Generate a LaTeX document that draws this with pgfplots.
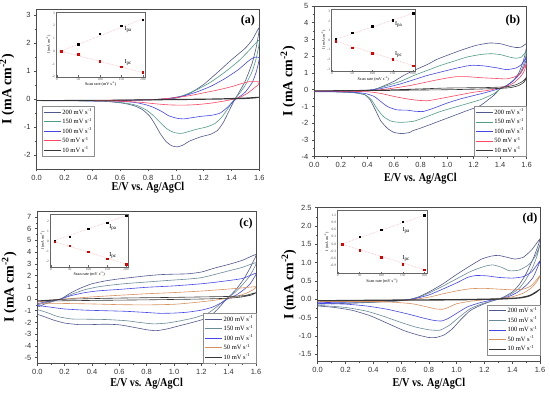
\documentclass[border=0pt]{standalone}
\usepackage{fontspec}
\setmainfont{Liberation Serif}
\setsansfont{Liberation Sans}
\usepackage{graphicx}
\usepackage{pgfplots}
\pgfplotsset{compat=1.18}

\definecolor{cA}{RGB}{80,88,140}
\definecolor{cB}{RGB}{80,155,135}
\definecolor{cBg}{RGB}{105,138,150}
\definecolor{cC}{RGB}{70,70,230}
\definecolor{cD}{RGB}{255,70,100}
\definecolor{cDo}{RGB}{215,145,95}
\definecolor{cE}{RGB}{55,55,55}
\definecolor{fitpink}{RGB}{255,160,170}

\tikzset{
  plab/.style={font=\fontsize{6}{6}\selectfont, anchor=center},
  panlab/.style={font=\bfseries\fontsize{12}{14}\selectfont},
}
\pgfplotsset{
  mainax/.style={
    scale only axis, xmin=0, xmax=1.6,
    xtick={0,0.2,0.4,0.6,0.8,1.0,1.2,1.4,1.6},
    minor x tick num=1, minor y tick num=1,
    tick align=outside, xtick pos=bottom, ytick pos=left,
    axis line style={black!70, line width=0.6pt},
    every tick/.style={black!70, line width=0.5pt},
    major tick length=2.5pt, minor tick length=1.5pt,
    tick label style={font=\sffamily\fontsize{7.5}{8}\selectfont, text=black!80},
    /pgf/number format/assume math mode=true,
    x tick label style={/pgf/number format/.cd, fixed, fixed zerofill, precision=1, /tikz/.cd},
    xlabel={\scalebox{0.85}[1]{E/V vs. Ag/AgCl}},
    ylabel={I (mA cm\textsuperscript{-2})},
    xlabel style={font=\bfseries\fontsize{12}{14}\selectfont, inner sep=0pt},
    ylabel style={font=\bfseries\fontsize{14}{16}\selectfont},
    every axis plot/.append style={line width=0.6pt, smooth, tension=0.35},
    legend style={font=\fontsize{6.5}{7}\selectfont, draw=black!45, line width=0.4pt, inner sep=1pt, row sep=-0.5pt, nodes={inner sep=1.5pt}},
    legend cell align=left,
    legend image code/.code={\draw[##1] (0pt,0pt) -- (17pt,0pt);},
  },
  inset/.style={
    scale only axis, xmin=-2, xmax=206,
    xtick={0,50,100,150,200},
    tick align=inside, xtick pos=bottom, ytick pos=left,
    axis line style={black!60, line width=0.3pt},
    every tick/.style={black!60, line width=0.3pt},
    major tick length=1.2pt,
    tick label style={font=\fontsize{3.5}{4}\selectfont, text=black!70, inner sep=0.8pt},
    /pgf/number format/assume math mode=true,
    xlabel={Scan rate (mV s\textsuperscript{-1})},
    ylabel={I (mA cm\textsuperscript{-2})},
    xlabel style={font=\fontsize{4.2}{4.5}\selectfont, inner sep=0.8pt},
    ylabel style={font=\fontsize{3.8}{4}\selectfont, inner sep=0.5pt},
    axis background/.style={fill=white},
  },
  fitline/.style={color=fitpink, line width=0.5pt, densely dotted, mark=none},
  pa/.style={only marks, mark=square*, mark size=0.75pt, color=black},
  pc/.style={only marks, mark=square*, mark size=0.75pt, color=red!85!black, mark options={fill=red}},
}

\begin{document}
\begin{tikzpicture}
\useasboundingbox (0pt,0pt) rectangle (550pt,395pt);

% ---------------- (a) ----------------
\begin{axis}[mainax, at={(36.7pt,226pt)}, anchor=south west, width=222.6pt, height=159.6pt,
  ymin=-2.5, ymax=3.2, ytick={-2,-1,0,1,2,3},
  xlabel style={at={(axis description cs:0.5,-0.118)}, anchor=center},
  ylabel style={at={(axis description cs:-0.133,0.5)}, anchor=center},
  legend style={at={(axis description cs:0.024,0.395)}, anchor=north west}]
\addplot[cA] coordinates {(0,-0.05) (0.3,-0.06) (0.6,-0.05) (0.8,-0.03) (0.9,-0.01) (1.0,0.03) (1.1,0.2) (1.2,0.52) (1.3,0.95) (1.4,1.4) (1.5,1.82) (1.55,2.12) (1.6,2.55)
 (1.58,1.9) (1.55,1.3) (1.5,0.65) (1.45,0.2) (1.42,-0.05) (1.38,-0.45) (1.34,-0.85) (1.3,-1.12) (1.25,-1.26) (1.18,-1.35) (1.1,-1.5) (1.05,-1.65) (1.01,-1.71) (0.97,-1.67) (0.93,-1.52) (0.89,-1.25) (0.85,-0.9) (0.81,-0.6) (0.76,-0.38) (0.7,-0.24) (0.62,-0.15) (0.5,-0.09) (0.3,-0.07) (0,-0.06)};
\addlegendentry{200 mV s\textsuperscript{-1}}
\addplot[cB] coordinates {(0,-0.05) (0.5,-0.05) (0.8,-0.03) (0.95,0.02) (1.05,0.12) (1.15,0.33) (1.25,0.6) (1.35,0.95) (1.45,1.35) (1.52,1.7) (1.6,2.1)
 (1.58,1.5) (1.55,1.0) (1.5,0.5) (1.45,0.15) (1.42,-0.02) (1.38,-0.3) (1.33,-0.65) (1.28,-0.88) (1.22,-1.0) (1.15,-1.08) (1.08,-1.18) (1.04,-1.23) (0.99,-1.2) (0.94,-1.08) (0.89,-0.85) (0.84,-0.6) (0.79,-0.4) (0.72,-0.23) (0.63,-0.14) (0.5,-0.08) (0.3,-0.06) (0,-0.06)};
\addlegendentry{150 mV s\textsuperscript{-1}}
\addplot[cC] coordinates {(0,-0.05) (0.5,-0.05) (0.8,-0.03) (0.95,0.02) (1.05,0.1) (1.15,0.25) (1.25,0.45) (1.35,0.72) (1.45,1.05) (1.52,1.35) (1.56,1.48) (1.6,1.47)
 (1.58,1.0) (1.55,0.6) (1.5,0.25) (1.45,0.05) (1.42,-0.05) (1.37,-0.3) (1.32,-0.5) (1.26,-0.58) (1.18,-0.62) (1.1,-0.68) (1.06,-0.71) (1.01,-0.69) (0.95,-0.6) (0.9,-0.45) (0.84,-0.3) (0.78,-0.2) (0.7,-0.12) (0.55,-0.07) (0.3,-0.06) (0,-0.06)};
\addlegendentry{100 mV s\textsuperscript{-1}}
\addplot[cD] coordinates {(0,-0.05) (0.4,-0.05) (0.7,-0.04) (0.85,-0.02) (1.0,0.05) (1.1,0.12) (1.2,0.22) (1.3,0.32) (1.4,0.44) (1.48,0.56) (1.53,0.62) (1.58,0.62) (1.6,0.6)
 (1.59,0.5) (1.56,0.38) (1.52,0.22) (1.47,0.08) (1.42,0.0) (1.35,-0.07) (1.25,-0.15) (1.15,-0.2) (1.05,-0.22) (0.95,-0.21) (0.85,-0.17) (0.75,-0.12) (0.6,-0.08) (0.4,-0.06) (0,-0.06)};
\addlegendentry{50 mV s\textsuperscript{-1}}
\addplot[cE] coordinates {(0,-0.05) (0.5,-0.04) (1.0,-0.01) (1.3,0.01) (1.5,0.04) (1.6,0.07)
 (1.58,0.04) (1.5,0.01) (1.3,-0.01) (1.0,-0.03) (0.5,-0.05) (0,-0.06)};
\addlegendentry{10 mV s\textsuperscript{-1}}
\node[panlab] at (rel axis cs:0.949,0.929) {(a)};
\end{axis}

% ---------------- (b) ----------------
\begin{axis}[mainax, at={(314.3pt,238.3pt)}, anchor=south west, width=212.4pt, height=150.7pt,
  ymin=-4, ymax=5, ytick={-4,-3,-2,-1,0,1,2,3,4,5},
  xlabel style={at={(axis description cs:0.5,-0.145)}, anchor=center},
  ylabel style={at={(axis description cs:-0.124,0.5)}, anchor=center},
  legend style={at={(axis description cs:1,0)}, anchor=south east}]
\addplot[cA] coordinates {(0,-0.12) (0.2,-0.1) (0.35,-0.07) (0.44,0.0) (0.5,0.15) (0.6,0.5) (0.67,0.84) (0.75,1.15) (0.85,1.5) (0.92,1.8) (1.0,2.05) (1.12,2.4) (1.22,2.65) (1.32,2.79) (1.4,2.75) (1.47,2.6) (1.52,2.52) (1.56,2.55) (1.6,2.75)
 (1.59,2.2) (1.57,1.6) (1.54,1.0) (1.5,0.55) (1.45,0.25) (1.4,0.05) (1.35,-0.35) (1.25,-0.95) (1.15,-1.25) (1.05,-1.55) (0.95,-1.85) (0.85,-2.15) (0.78,-2.35) (0.74,-2.45) (0.72,-2.55) (0.66,-2.62) (0.6,-2.55) (0.55,-2.3) (0.5,-1.85) (0.46,-1.2) (0.42,-0.6) (0.38,-0.3) (0.3,-0.18) (0.15,-0.13) (0,-0.12)};
\addlegendentry{200 mV s\textsuperscript{-1}}
\addplot[cB] coordinates {(0,-0.1) (0.3,-0.08) (0.44,0.0) (0.55,0.25) (0.65,0.5) (0.75,0.85) (0.85,1.15) (0.95,1.45) (1.05,1.7) (1.15,1.95) (1.25,2.1) (1.33,2.15) (1.4,2.1) (1.47,1.95) (1.52,1.88) (1.56,1.95) (1.6,2.3)
 (1.58,1.6) (1.55,1.0) (1.5,0.55) (1.45,0.25) (1.4,0.05) (1.35,-0.25) (1.25,-0.6) (1.1,-0.95) (0.95,-1.3) (0.85,-1.6) (0.75,-1.88) (0.65,-1.95) (0.58,-1.88) (0.52,-1.6) (0.47,-1.1) (0.43,-0.6) (0.38,-0.3) (0.3,-0.17) (0.15,-0.12) (0,-0.1)};
\addlegendentry{150 mV s\textsuperscript{-1}}
\addplot[cC] coordinates {(0,-0.1) (0.3,-0.07) (0.45,0.0) (0.55,0.15) (0.65,0.35) (0.75,0.6) (0.85,0.85) (0.95,1.05) (1.05,1.25) (1.15,1.42) (1.2,1.46) (1.28,1.42) (1.38,1.3) (1.45,1.2) (1.52,1.3) (1.56,1.5) (1.6,1.95)
 (1.58,1.4) (1.55,0.95) (1.5,0.55) (1.45,0.25) (1.4,0.08) (1.3,-0.15) (1.2,-0.35) (1.1,-0.55) (1.0,-0.8) (0.9,-1.1) (0.82,-1.3) (0.75,-1.28) (0.7,-1.22) (0.62,-1.2) (0.55,-1.0) (0.5,-0.7) (0.45,-0.4) (0.38,-0.22) (0.25,-0.13) (0,-0.1)};
\addlegendentry{100 mV s\textsuperscript{-1}}
\addplot[cD] coordinates {(0,-0.08) (0.4,-0.05) (0.5,0.0) (0.6,0.1) (0.7,0.22) (0.8,0.38) (0.9,0.55) (1.0,0.7) (1.07,0.78) (1.15,0.78) (1.25,0.72) (1.35,0.68) (1.45,0.65) (1.52,0.8) (1.56,1.05) (1.6,1.6)
 (1.58,1.1) (1.55,0.75) (1.5,0.4) (1.45,0.2) (1.4,0.1) (1.3,-0.05) (1.2,-0.15) (1.1,-0.3) (1.0,-0.45) (0.9,-0.6) (0.85,-0.66) (0.78,-0.63) (0.7,-0.55) (0.6,-0.4) (0.5,-0.22) (0.4,-0.12) (0.2,-0.09) (0,-0.08)};
\addlegendentry{50 mV s\textsuperscript{-1}}
\addplot[cE] coordinates {(0,-0.06) (0.5,-0.02) (0.8,0.05) (1.0,0.1) (1.3,0.13) (1.45,0.18) (1.52,0.3) (1.57,0.5) (1.6,0.75)
 (1.58,0.45) (1.54,0.25) (1.48,0.13) (1.4,0.08) (1.2,0.03) (1.0,0.0) (0.7,-0.03) (0.4,-0.06) (0,-0.08)};
\addlegendentry{10 mV s\textsuperscript{-1}}
\node[panlab] at (rel axis cs:0.935,0.9) {(b)};
\end{axis}

% ---------------- (c) ----------------
\begin{axis}[mainax, at={(37.3pt,31.5pt)}, anchor=south west, width=218.7pt, height=152.4pt,
  ymin=-5.5, ymax=7.5, ytick={-5,-4,-3,-2,-1,0,1,2,3,4,5,6,7},
  xlabel style={at={(axis description cs:0.5,-0.135)}, anchor=center},
  ylabel style={at={(axis description cs:-0.128,0.5)}, anchor=center},
  legend style={at={(axis description cs:1,0)}, anchor=south east}]
\addplot[cA] coordinates {(0,-0.7) (0.05,-0.45) (0.1,-0.25) (0.17,0.0) (0.25,0.55) (0.32,0.95) (0.4,1.3) (0.5,1.55) (0.6,1.72) (0.7,1.85) (0.8,1.98) (0.9,2.08) (1.0,2.12) (1.1,2.15) (1.2,2.3) (1.3,2.65) (1.4,2.95) (1.5,3.3) (1.6,3.8)
 (1.58,3.2) (1.55,2.5) (1.51,1.7) (1.46,0.9) (1.42,0.4) (1.38,-0.05) (1.34,-0.6) (1.29,-1.2) (1.22,-1.7) (1.15,-1.95) (1.05,-2.25) (0.95,-2.55) (0.87,-2.7) (0.8,-2.62) (0.7,-2.4) (0.6,-2.2) (0.5,-2.15) (0.4,-2.18) (0.3,-2.18) (0.2,-2.05) (0.12,-1.8) (0.05,-1.5) (0,-1.3)};
\addlegendentry{200 mV s\textsuperscript{-1}}
\addplot[cBg] coordinates {(0,-0.5) (0.08,-0.25) (0.17,0.0) (0.25,0.4) (0.35,0.8) (0.45,1.05) (0.55,1.2) (0.65,1.32) (0.8,1.45) (0.95,1.58) (1.1,1.7) (1.2,1.82) (1.3,2.1) (1.4,2.4) (1.5,2.7) (1.6,3.1)
 (1.58,2.5) (1.55,1.9) (1.5,1.2) (1.45,0.6) (1.4,0.15) (1.37,-0.1) (1.32,-0.6) (1.25,-1.2) (1.15,-1.6) (1.05,-1.85) (0.95,-2.05) (0.85,-2.12) (0.75,-2.0) (0.65,-1.85) (0.5,-1.75) (0.35,-1.72) (0.25,-1.7) (0.15,-1.5) (0.07,-1.15) (0,-0.9)};
\addlegendentry{150 mV s\textsuperscript{-1}}
\addplot[cC] coordinates {(0,-0.4) (0.1,-0.15) (0.17,0.0) (0.25,0.3) (0.35,0.55) (0.45,0.7) (0.6,0.82) (0.8,1.0) (1.0,1.12) (1.2,1.3) (1.35,1.5) (1.5,1.75) (1.6,2.2)
 (1.58,1.7) (1.55,1.2) (1.5,0.7) (1.45,0.3) (1.4,0.05) (1.35,-0.3) (1.28,-0.7) (1.2,-0.95) (1.1,-1.12) (1.0,-1.2) (0.9,-1.22) (0.8,-1.15) (0.65,-1.05) (0.5,-1.0) (0.35,-0.95) (0.2,-0.85) (0.1,-0.7) (0,-0.55)};
\addlegendentry{100 mV s\textsuperscript{-1}}
\addplot[cDo] coordinates {(0,-0.25) (0.1,-0.1) (0.2,0.0) (0.4,0.18) (0.6,0.32) (0.8,0.45) (1.0,0.55) (1.2,0.68) (1.4,0.85) (1.5,0.95) (1.6,1.05)
 (1.58,0.8) (1.53,0.5) (1.45,0.2) (1.38,0.05) (1.3,-0.1) (1.15,-0.3) (1.0,-0.45) (0.8,-0.5) (0.6,-0.48) (0.4,-0.42) (0.2,-0.38) (0,-0.35)};
\addlegendentry{50 mV s\textsuperscript{-1}}
\addplot[cE] coordinates {(0,-0.15) (0.2,-0.02) (0.6,0.08) (1.0,0.14) (1.4,0.22) (1.52,0.3) (1.6,0.55)
 (1.57,0.35) (1.5,0.18) (1.4,0.07) (1.2,0.0) (0.8,-0.07) (0.4,-0.12) (0,-0.18)};
\addlegendentry{10 mV s\textsuperscript{-1}}
\node[panlab] at (rel axis cs:0.954,0.92) {(c)};
\end{axis}

% ---------------- (d) ----------------
\begin{axis}[mainax, at={(317.7pt,33.3pt)}, anchor=south west, width=222.3pt, height=154pt,
  ymin=-1.7, ymax=2.5, ytick={-1.5,-1,-0.5,0,0.5,1,1.5,2,2.5},
  y tick label style={/pgf/number format/.cd, fixed, fixed zerofill, precision=1, /tikz/.cd},
  xlabel style={at={(axis description cs:0.5,-0.14)}, anchor=center},
  ylabel style={at={(axis description cs:-0.129,0.5)}, anchor=center},
  legend style={at={(axis description cs:1,0.043)}, anchor=south east}]
\addplot[cA] coordinates {(0,-0.13) (0.2,-0.11) (0.4,-0.08) (0.55,-0.05) (0.65,-0.01) (0.72,0.06) (0.8,0.2) (0.9,0.42) (1.0,0.68) (1.1,0.92) (1.18,1.1) (1.25,1.18) (1.3,1.2) (1.36,1.15) (1.42,1.1) (1.48,1.15) (1.54,1.35) (1.6,1.65)
 (1.58,1.4) (1.55,1.1) (1.5,0.7) (1.45,0.4) (1.4,0.2) (1.33,0.05) (1.25,-0.05) (1.18,-0.15) (1.1,-0.3) (1.03,-0.55) (0.97,-0.8) (0.91,-0.97) (0.85,-1.04) (0.8,-1.04) (0.72,-0.97) (0.62,-0.85) (0.5,-0.65) (0.38,-0.45) (0.25,-0.3) (0.12,-0.22) (0,-0.18)};
\addlegendentry{200 mV s\textsuperscript{-1}}
\addplot[cBg] coordinates {(0,-0.11) (0.3,-0.09) (0.55,-0.05) (0.65,-0.01) (0.72,0.05) (0.8,0.17) (0.9,0.36) (1.0,0.56) (1.1,0.76) (1.2,0.9) (1.26,0.94) (1.32,0.88) (1.38,0.78) (1.45,0.8) (1.52,0.95) (1.57,1.2) (1.6,1.5)
 (1.58,1.2) (1.55,0.9) (1.5,0.55) (1.45,0.3) (1.38,0.12) (1.3,0.0) (1.2,-0.1) (1.1,-0.25) (1.02,-0.48) (0.95,-0.7) (0.88,-0.84) (0.8,-0.83) (0.7,-0.75) (0.6,-0.63) (0.48,-0.47) (0.35,-0.32) (0.2,-0.22) (0,-0.16)};
\addlegendentry{150 mV s\textsuperscript{-1}}
\addplot[cC] coordinates {(0,-0.09) (0.3,-0.07) (0.6,-0.03) (0.7,0.02) (0.8,0.12) (0.9,0.28) (1.0,0.45) (1.08,0.6) (1.14,0.65) (1.22,0.64) (1.3,0.6) (1.4,0.58) (1.48,0.62) (1.54,0.75) (1.6,1.05)
 (1.58,0.85) (1.55,0.6) (1.5,0.38) (1.44,0.2) (1.37,0.07) (1.28,0.0) (1.18,-0.08) (1.08,-0.2) (1.0,-0.38) (0.94,-0.52) (0.89,-0.59) (0.83,-0.57) (0.75,-0.5) (0.65,-0.4) (0.5,-0.27) (0.35,-0.18) (0.2,-0.13) (0,-0.11)};
\addlegendentry{100 mV s\textsuperscript{-1}}
\addplot[cDo] coordinates {(0,-0.06) (0.4,-0.05) (0.65,-0.02) (0.8,0.06) (0.9,0.15) (1.0,0.23) (1.1,0.29) (1.2,0.3) (1.3,0.28) (1.4,0.26) (1.48,0.28) (1.54,0.38) (1.6,0.65)
 (1.58,0.5) (1.54,0.32) (1.48,0.17) (1.4,0.07) (1.3,0.02) (1.2,-0.01) (1.1,-0.05) (1.0,-0.12) (0.94,-0.22) (0.9,-0.27) (0.85,-0.26) (0.78,-0.2) (0.68,-0.12) (0.55,-0.08) (0.35,-0.06) (0,-0.06)};
\addlegendentry{50 mV s\textsuperscript{-1}}
\addplot[cE] coordinates {(0,-0.03) (0.6,-0.01) (1.0,0.0) (1.3,0.02) (1.45,0.05) (1.53,0.12) (1.6,0.28)
 (1.57,0.18) (1.52,0.08) (1.45,0.03) (1.3,0.0) (1.0,-0.02) (0.6,-0.03) (0,-0.04)};
\addlegendentry{10 mV s\textsuperscript{-1}}
\node[panlab] at (rel axis cs:0.955,0.927) {(d)};
\end{axis}

% ---------------- insets ----------------
\begin{axis}[inset, at={(56pt,318.3pt)}, anchor=south west, width=89.5pt, height=64.2pt,
  ymin=-2, ymax=3.05, ytick={-2,-1,0,1,2,3}]
\addplot[fitline] coordinates {(10,0.02) (200,2.55)};
\addplot[fitline] coordinates {(10,0.0) (200,-1.68)};
\addplot[pa] coordinates {(10,0.03) (50,0.55) (100,1.4) (150,2.03) (200,2.5)};
\addplot[pc] coordinates {(10,0.0) (50,-0.23) (100,-0.78) (150,-1.22) (200,-1.66)};
\node[plab] at (axis cs:166,1.72) {I\textsubscript{pa}};
\node[plab] at (axis cs:166,-0.92) {I\textsubscript{pc}};
\end{axis}

\begin{axis}[inset, at={(331pt,324pt)}, anchor=south west, width=84.5pt, height=62pt,
  ymin=-3.2, ymax=3.25, ytick={-3,-2,-1,0,1,2,3}]
\addplot[fitline] coordinates {(10,0.1) (200,2.8)};
\addplot[fitline] coordinates {(10,-0.1) (200,-2.64)};
\addplot[pa] coordinates {(10,0.1) (50,0.79) (100,1.45) (150,2.07) (200,2.79)};
\addplot[pc] coordinates {(10,-0.1) (50,-0.76) (100,-1.34) (150,-1.97) (200,-2.64)};
\node[plab] at (axis cs:165,1.6) {I\textsubscript{pa}};
\node[plab] at (axis cs:165,-1.5) {I\textsubscript{pc}};
\end{axis}

\begin{axis}[inset, at={(50pt,128.3pt)}, anchor=south west, width=78.3pt, height=52.4pt,
  ymin=-2.55, ymax=2.68, ytick={-2,-1,0,1,2}]
\addplot[fitline] coordinates {(10,0.05) (200,2.55)};
\addplot[fitline] coordinates {(10,-0.05) (200,-2.28)};
\addplot[pa] coordinates {(10,0.05) (50,0.45) (100,1.22) (150,1.85) (200,2.55)};
\addplot[pc] coordinates {(10,-0.05) (50,-0.45) (100,-1.05) (150,-1.75) (200,-2.28)};
\node[plab] at (axis cs:165,1.4) {I\textsubscript{pa}};
\node[plab] at (axis cs:165,-1.4) {I\textsubscript{pc}};
\end{axis}

\begin{axis}[inset, at={(337pt,121.7pt)}, anchor=south west, width=90pt, height=63.3pt,
  ymin=-1.22, ymax=1.42, ytick={-0.9,-0.6,-0.3,0,0.3,0.6,0.9,1.2},
  y tick label style={/pgf/number format/.cd, fixed, fixed zerofill, precision=1, /tikz/.cd}]
\addplot[fitline] coordinates {(10,0.01) (200,1.2)};
\addplot[fitline] coordinates {(10,-0.01) (200,-1.07)};
\addplot[pa] coordinates {(10,0.01) (50,0.3) (100,0.6) (150,0.93) (200,1.2)};
\addplot[pc] coordinates {(10,-0.01) (50,-0.26) (100,-0.55) (150,-0.85) (200,-1.07)};
\node[plab] at (axis cs:158,0.55) {I\textsubscript{pa}};
\node[plab] at (axis cs:158,-0.62) {I\textsubscript{pc}};
\end{axis}
\end{tikzpicture}
\end{document}
